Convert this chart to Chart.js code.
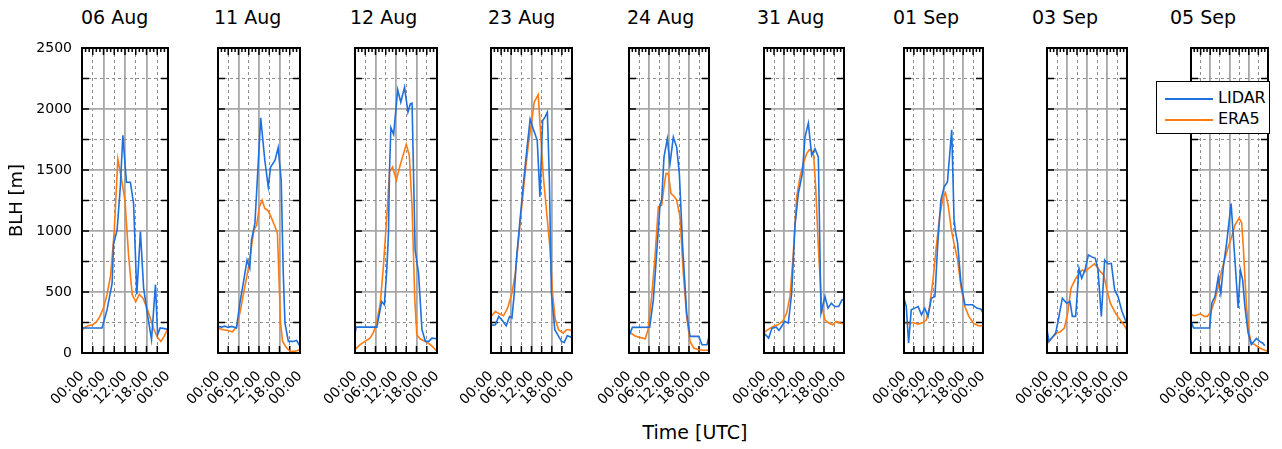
<!DOCTYPE html>
<html>
<head>
<meta charset="utf-8">
<script src="https://cdn.jsdelivr.net/npm/chart.js@4.4.1/dist/chart.umd.min.js"></script>
<style>
  html, body { margin: 0; padding: 0; background: #fff; }
  #wrap { position: relative; width: 1282px; height: 449px; overflow: hidden; font-family: 'DejaVu Sans', sans-serif; color: #000; }
  #wrap canvas { position: absolute; top: 0; }
  .day { position: absolute; top: 6px; font-size: 19px; line-height: 22px; white-space: nowrap; }
  #xtitle { position: absolute; left: 595px; width: 200px; top: 420px; text-align: center; font-size: 19px; line-height: 24px; }
  #legend { position: absolute; left: 1156px; top: 81px; width: 112px; height: 51px; border: 1px solid #000; background: #fff; z-index: 5; }
  #legend .sw { position: absolute; left: 8px; width: 48px; height: 2px; }
  #legend .lb { position: absolute; left: 61px; font-size: 16px; line-height: 18px; }
</style>
</head>
<body>
<div id="wrap">
  <div id="xtitle">Time [UTC]</div>
  <div id="legend">
    <div class="sw" style="top:16px;background:#1f6fdc"></div><div class="lb" style="top:7px">LIDAR</div>
    <div class="sw" style="top:37px;background:#ff7b12"></div><div class="lb" style="top:28px">ERA5</div>
  </div>
</div>
<script>
const days = ['06 Aug', '11 Aug', '12 Aug', '23 Aug', '24 Aug', '31 Aug', '01 Sep', '03 Sep', '05 Sep'];
const xTickLabels = ['00:00', '06:00', '12:00', '18:00', '00:00'];

// LIDAR boundary layer height, hours UTC and metres
const lidarHours = [
  [0, 5.6, 7.0, 8.4, 8.8, 9.8, 10.7, 11.4, 12.4, 13.5, 14.4, 15.3, 16.3, 17.2, 18.2, 19.4, 20.5, 21.1, 21.8, 23.0, 24],
  [0, 1, 2, 3, 4, 5.4, 6.4, 7.4, 8.5, 9.3, 9.8, 10.8, 11.5, 12.5, 13.7, 14.7, 15.4, 16.7, 17.6, 18.5, 19.1, 19.6, 20.6, 22, 23, 24],
  [0, 0.3, 6.4, 7.8, 8.6, 9.3, 9.8, 10.1, 10.5, 11.3, 12.5, 13.4, 14.5, 15.5, 16.2, 16.7, 17.6, 18.6, 19.6, 20.6, 21.6, 22.5, 24],
  [0, 1.3, 2.3, 3.2, 4.5, 5.5, 6.2, 6.9, 7.6, 8.6, 9.6, 10.6, 11.6, 12.5, 13.7, 14.5, 15.3, 16.0, 16.7, 17.3, 17.9, 18.9, 19.9, 20.9, 21.7, 22.6, 24],
  [0, 1.0, 6.2, 7.3, 8.3, 9.3, 9.8, 10.5, 11.5, 12.3, 13.3, 14.3, 15.1, 16.1, 17.3, 18.3, 19.4, 20.9, 21.9, 23.4, 24],
  [0, 1.4, 2.4, 3.7, 4.5, 5.4, 6.2, 7.3, 8.3, 9.3, 10.3, 11.5, 12.3, 13.3, 14.3, 15.3, 16.3, 17.1, 18.3, 19.2, 20.2, 21.2, 22.4, 23.4, 24],
  [0, 0.7, 1.4, 2.2, 3.3, 4.3, 5.3, 6.3, 7.3, 8.3, 9.4, 10.2, 11.2, 12.2, 13.2, 14.5, 15.2, 15.6, 16.3, 17.3, 18.5, 19.5, 20.8, 22.1, 23.4, 24],
  [0, 0.6, 1.4, 2.6, 3.4, 4.6, 5.9, 6.9, 7.6, 8.6, 9.6, 10.4, 11.4, 12.4, 13.3, 14.5, 15.3, 16.3, 17.3, 18.3, 19.3, 20.3, 21.3, 22.5, 23.5, 24],
  [0, 0.8, 5.8, 6.5, 7.5, 8.5, 9.3, 10.1, 11.1, 12.5, 14.7, 15.4, 16.1, 16.8, 17.8, 18.8, 19.6, 20.4, 21.4, 22.4, 23.0]
];
const lidarBLH = [
  [205, 205, 355, 570, 890, 1010, 1365, 1785, 1400, 1400, 1225, 480, 995, 530, 330, 110, 560, 150, 205, 200, 195],
  [218, 212, 220, 210, 218, 205, 408, 572, 762, 694, 926, 1062, 1416, 1928, 1580, 1362, 1525, 1580, 1683, 1416, 653, 245, 95, 95, 103, 54],
  [150, 212, 212, 422, 395, 681, 980, 1498, 1846, 1792, 2157, 2056, 2178, 1974, 2042, 2048, 844, 653, 191, 95, 95, 122, 117],
  [226, 231, 300, 272, 223, 300, 286, 490, 790, 1089, 1389, 1661, 1917, 1838, 1743, 1280, 1906, 1933, 1974, 1416, 490, 191, 142, 95, 87, 142, 128],
  [140, 210, 212, 436, 817, 1212, 1252, 1607, 1756, 1552, 1770, 1688, 1470, 871, 327, 136, 136, 136, 68, 68, 136],
  [163, 122, 204, 212, 185, 223, 259, 245, 490, 1048, 1307, 1470, 1770, 1884, 1620, 1674, 1607, 327, 463, 368, 408, 381, 381, 436, 440],
  [449, 381, 82, 354, 368, 381, 313, 368, 300, 449, 463, 871, 1253, 1362, 1402, 1830, 1100, 1000, 899, 572, 395, 395, 395, 368, 359, 327],
  [191, 95, 122, 163, 272, 449, 408, 422, 300, 300, 694, 613, 681, 803, 790, 776, 681, 300, 762, 730, 735, 517, 463, 340, 272, 245],
  [260, 205, 205, 410, 465, 625, 490, 710, 900, 1225, 370, 680, 600, 380, 165, 70, 95, 120, 95, 80, 60]
];

// ERA5 boundary layer height, hours UTC and metres
const era5Hours = [
  [0, 1, 2, 3, 4, 5, 6, 7, 8, 9, 10, 11, 12, 13, 14, 15, 16, 17, 18, 19, 20, 21, 22, 23, 24],
  [0, 1.5, 2.9, 4.2, 5.4, 6.4, 7.5, 8.8, 9.8, 10.5, 11.3, 12.1, 12.9, 13.7, 14.7, 15.7, 16.7, 17.4, 17.8, 18.3, 18.9, 20.1, 21.1, 22.5, 24],
  [0, 1.5, 2.9, 4.4, 5.4, 6.4, 7.4, 8.3, 9.3, 10.1, 11.0, 12.1, 13.2, 14.2, 15.0, 15.9, 16.7, 17.5, 18.1, 19.1, 20.6, 22.1, 24],
  [0, 1.3, 2.5, 3.7, 4.9, 6.2, 7.2, 8.1, 9.1, 10.1, 11.1, 12.1, 12.8, 14.0, 14.7, 15.5, 16.5, 17.5, 18.2, 19.0, 20.0, 21.4, 22.4, 23.3, 24],
  [0, 1.7, 3.2, 4.9, 5.7, 6.8, 7.8, 8.8, 9.8, 10.5, 11.1, 11.8, 12.6, 13.5, 14.3, 15.3, 16.3, 17.3, 18.3, 19.4, 20.9, 22.4, 24],
  [0, 1.2, 2.7, 4.2, 5.7, 6.8, 7.8, 8.8, 9.8, 10.8, 11.8, 12.8, 13.6, 14.3, 14.9, 15.5, 16.3, 17.3, 18.3, 19.4, 20.6, 21.6, 22.9, 24],
  [0, 1.2, 2.7, 4.3, 5.8, 6.8, 7.8, 8.8, 9.8, 10.8, 11.9, 12.6, 13.4, 14.4, 15.2, 16.3, 17.3, 18.5, 19.7, 21.1, 22.6, 24],
  [0, 1.4, 2.9, 3.9, 5.2, 6.2, 7.2, 8.4, 9.6, 10.6, 11.4, 12.4, 13.3, 14.2, 15.0, 16.0, 17.0, 18.0, 19.0, 20.3, 21.5, 22.7, 24],
  [0, 1.3, 2.9, 4.1, 5.1, 6.2, 7.5, 8.5, 9.6, 10.6, 11.6, 12.7, 13.7, 15.0, 15.8, 16.3, 17.3, 18.1, 18.8, 19.9, 21.4, 23.0, 24]
];
const era5BLH = [
  [190, 215, 225, 232, 255, 300, 370, 480, 640, 1000, 1590, 1430, 1250, 800, 480, 420, 480, 450, 380, 290, 200, 130, 95, 140, 205],
  [204, 190, 185, 174, 212, 327, 490, 681, 871, 1007, 1048, 1198, 1253, 1185, 1165, 1103, 1035, 980, 653, 245, 95, 41, 14, 14, 27],
  [27, 68, 95, 122, 169, 259, 408, 708, 1116, 1484, 1525, 1416, 1538, 1634, 1710, 1620, 1198, 436, 150, 114, 95, 68, 14],
  [300, 340, 321, 305, 368, 490, 653, 912, 1198, 1470, 1715, 1906, 2056, 2118, 1800, 1450, 1150, 850, 500, 280, 190, 163, 191, 191, 177],
  [175, 142, 128, 117, 191, 463, 790, 1198, 1212, 1362, 1470, 1470, 1307, 1285, 1253, 1116, 653, 300, 95, 41, 27, 22, 22],
  [169, 191, 218, 231, 264, 327, 463, 817, 1280, 1443, 1552, 1634, 1666, 1661, 1620, 1362, 871, 381, 272, 245, 231, 259, 245, 240],
  [245, 240, 250, 237, 250, 272, 381, 599, 871, 1116, 1280, 1312, 1212, 1007, 899, 762, 545, 381, 300, 245, 223, 223],
  [76, 122, 163, 172, 204, 327, 531, 599, 653, 681, 667, 692, 710, 730, 708, 667, 640, 517, 408, 340, 286, 245, 191],
  [313, 305, 321, 300, 300, 340, 436, 545, 681, 776, 871, 953, 1048, 1105, 1065, 871, 381, 163, 82, 68, 41, 22, 14]
];

// panel layout in page pixels
const plotLeft = [82, 218, 355, 491, 629, 764, 904, 1047, 1191];
const plotRight = [168, 300, 437, 572, 709, 844, 983, 1127, 1268];
const titleLeft = [81, 214, 350, 488, 627, 757, 893, 1032, 1170];
const plotTop = 48, plotBottom = 353, pageH = 449;
const axisW = 75, padR = 12;

const BLUE = '#1f6fdc', ORANGE = '#ff7b12';
const GRID_SOLID = '#a8a8a8', GRID_DASH = '#8e8e8e';
const FONT = 'DejaVu Sans';

// black frame plus the inward pointing ticks
const frame = {
  id: 'frame',
  beforeDatasetsDraw(chart) {
    const { ctx, chartArea: a, scales: { x, y } } = chart;
    ctx.save();
    ctx.strokeStyle = '#000';
    ctx.lineWidth = 1.5;
    ctx.beginPath();
    y.ticks.forEach(t => {
      const py = y.getPixelForValue(t.value);
      ctx.moveTo(a.left, py); ctx.lineTo(a.left + 7, py);
      ctx.moveTo(a.right, py); ctx.lineTo(a.right - 7, py);
    });
    x.ticks.forEach(t => {
      const px = x.getPixelForValue(t.value);
      ctx.moveTo(px, a.bottom); ctx.lineTo(px, a.bottom - 7);
    });
    for (let h = 0; h <= 24; h += 1) {
      const px = x.getPixelForValue(h);
      ctx.moveTo(px, a.top); ctx.lineTo(px, a.top + (h % 3 === 0 ? 7 : 4));
    }
    ctx.stroke();
    ctx.restore();
  },
  afterDatasetsDraw(chart) {
    const { ctx, chartArea: a } = chart;
    ctx.save();
    ctx.strokeStyle = '#000';
    ctx.lineWidth = 2;
    ctx.strokeRect(a.left, a.top, a.right - a.left, a.bottom - a.top);
    ctx.restore();
  }
};

const wrap = document.getElementById('wrap');

days.forEach((day, i) => {
  const t = document.createElement('div');
  t.className = 'day';
  t.style.left = titleLeft[i] + 'px';
  t.textContent = day;
  wrap.appendChild(t);

  const cv = document.createElement('canvas');
  const w = axisW + (plotRight[i] - plotLeft[i]) + padR;
  cv.width = w;
  cv.height = pageH;
  cv.style.left = (plotLeft[i] - axisW) + 'px';
  wrap.appendChild(cv);

  new Chart(cv, {
    type: 'line',
    data: {
      datasets: [
        {
          label: 'LIDAR',
          data: lidarHours[i].map((h, k) => ({ x: h, y: lidarBLH[i][k] })),
          borderColor: BLUE,
          borderWidth: 1.6,
          pointRadius: 0,
          tension: 0
        },
        {
          label: 'ERA5',
          data: era5Hours[i].map((h, k) => ({ x: h, y: era5BLH[i][k] })),
          borderColor: ORANGE,
          borderWidth: 1.6,
          pointRadius: 0,
          tension: 0
        }
      ]
    },
    options: {
      responsive: false,
      animation: false,
      layout: { padding: { top: plotTop, right: padR, bottom: 0, left: 0 } },
      plugins: {
        legend: { display: false },
        tooltip: { enabled: false },
        title: { display: false }
      },
      scales: {
        x: {
          type: 'linear',
          min: 0,
          max: 24,
          ticks: {
            stepSize: 3,
            autoSkip: false,
            maxRotation: 45,
            minRotation: 45,
            padding: 15,
            color: '#000',
            font: { family: FONT, size: 14 },
            callback: v => (v % 6 === 0 ? xTickLabels[v / 6] : '')
          },
          grid: {
            drawTicks: false,
            color: c => (c.tick && c.tick.value % 6 === 0 ? GRID_SOLID : GRID_DASH),
            lineWidth: c => (c.tick && c.tick.value % 6 === 0 ? 1.8 : 1)
          },
          border: { display: false, dash: c => (c.tick && c.tick.value % 6 === 0 ? [] : [3, 3]) },
          afterFit: s => {
            s.height = pageH - plotBottom;
            s.paddingLeft = 0;
            s.paddingRight = 0;
          }
        },
        y: {
          min: 0,
          max: 2500,
          ticks: {
            stepSize: 250,
            autoSkip: false,
            display: i === 0,
            padding: 10,
            color: '#000',
            font: { family: FONT, size: 14 },
            callback: v => (v % 500 === 0 ? v : '')
          },
          grid: {
            drawTicks: false,
            color: c => (c.tick && c.tick.value % 500 === 0 ? GRID_SOLID : GRID_DASH),
            lineWidth: c => (c.tick && c.tick.value % 500 === 0 ? 1.8 : 1)
          },
          border: { display: false, dash: c => (c.tick && c.tick.value % 500 === 0 ? [] : [3, 3]) },
          title: {
            display: i === 0,
            text: 'BLH [m]',
            color: '#000',
            font: { family: FONT, size: 18 },
            padding: { top: 0, bottom: 0 }
          },
          afterFit: s => {
            s.width = axisW;
            s.paddingTop = 0;
            s.paddingBottom = 0;
          }
        }
      }
    },
    plugins: [frame]
  });
});
</script>
</body>
</html>
